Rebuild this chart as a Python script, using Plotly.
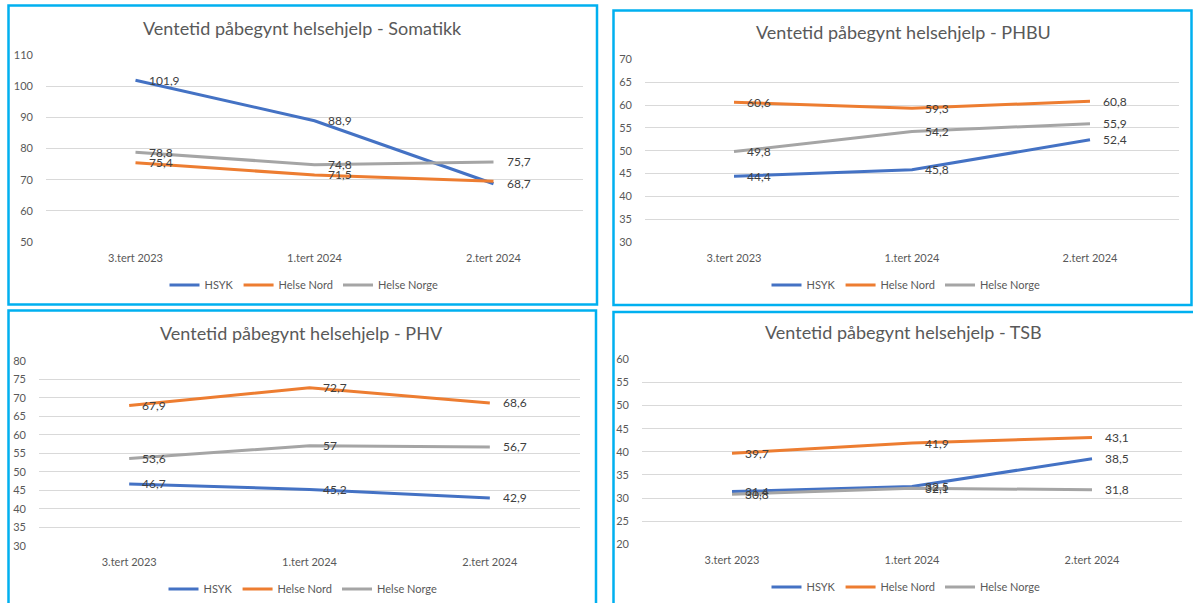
import plotly.graph_objects as go

# ---- data -------------------------------------------------------------
periods = ["3.tert 2023", "1.tert 2024", "2.tert 2024"]
series_names = ["HSYK", "Helse Nord", "Helse Norge"]
series_colors = ["#4472C4", "#ED7D31", "#A5A5A5"]

# Somatikk
som_hsyk = [101.9, 88.9, 68.7]
som_nord = [75.4, 71.5, 69.5]
som_norge = [78.8, 74.8, 75.7]
som_labels_nord = [True, True, False]

# PHBU
phbu_hsyk = [44.4, 45.8, 52.4]
phbu_nord = [60.6, 59.3, 60.8]
phbu_norge = [49.8, 54.2, 55.9]

# PHV
phv_hsyk = [46.7, 45.2, 42.9]
phv_nord = [67.9, 72.7, 68.6]
phv_norge = [53.6, 57.0, 56.7]

# TSB
tsb_hsyk = [31.4, 32.5, 38.5]
tsb_nord = [39.7, 41.9, 43.1]
tsb_norge = [30.8, 32.1, 31.8]

titles = [
    "Ventetid påbegynt helsehjelp - Somatikk",
    "Ventetid påbegynt helsehjelp - PHBU",
    "Ventetid påbegynt helsehjelp - PHV",
    "Ventetid påbegynt helsehjelp - TSB",
]

# ---- layout helpers ---------------------------------------------------
W, H = 1193, 603
FONT = "Lato"
TXT = "#595959"
LBL = "#404040"
GRID = "#D9D9D9"
FRAME = "#00B0F0"


def px(v):
    return v / W


def py(v):
    return 1 - v / H


def fmt(v):
    s = f"{v:g}"
    return s.replace(".", ",")


# panel definitions: plot-area pixel box, y-range, tick step, frame box,
# title centre, legend centre
panels = [
    dict(data=[som_hsyk, som_nord, som_norge], show=[None, som_labels_nord, None],
         xpx=(46, 583), ypx=(242, 55), yr=(50, 110), dt=10,
         frame=(8.5, 5.5, 597, 304.5), title=(302, 28), leg=(304, 285)),
    dict(data=[phbu_hsyk, phbu_nord, phbu_norge], show=[None, None, None],
         xpx=(645, 1179), ypx=(242, 59.3), yr=(30, 70), dt=5,
         frame=(613.5, 10.5, 1191.5, 305), title=(903, 32), leg=(906, 285)),
    dict(data=[phv_hsyk, phv_nord, phv_norge], show=[None, None, None],
         xpx=(39, 580), ypx=(545.7, 360.7), yr=(30, 80), dt=5,
         frame=(8.5, 310.5, 596, 612), title=(301, 333), leg=(303, 589)),
    dict(data=[tsb_hsyk, tsb_nord, tsb_norge], show=[None, None, None],
         xpx=(642, 1182), ypx=(544.3, 359.3), yr=(20, 60), dt=5,
         frame=(613.5, 312, 1200, 612), title=(903, 332), leg=(906, 587)),
]

fig = go.Figure()
annotations = []
shapes = []
layout_axes = {}

for i, p in enumerate(panels):
    n = "" if i == 0 else str(i + 1)
    xa, ya = "x" + n, "y" + n
    leg = "legend" + n

    for s_idx, (name, color, vals) in enumerate(zip(series_names, series_colors, p["data"])):
        fig.add_trace(go.Scatter(
            x=periods, y=vals, name=name, mode="lines",
            line=dict(color=color, width=3),
            xaxis=xa, yaxis=ya, legend=leg, hoverinfo="skip",
        ))
        mask = p["show"][s_idx]
        for k, (cat, v) in enumerate(zip(periods, vals)):
            if mask is not None and not mask[k]:
                continue
            annotations.append(dict(
                x=cat, y=v, xref=xa, yref=ya, text=fmt(v), showarrow=False,
                xanchor="left", yanchor="middle", xshift=11,
                font=dict(family=FONT, size=12, color=LBL),
            ))

    y0, y1 = p["yr"]
    layout_axes["xaxis" + n] = dict(
        domain=[px(p["xpx"][0]), px(p["xpx"][1])], anchor=ya,
        type="category", range=[-0.5, 2.5], showgrid=False, zeroline=False,
        showline=False, ticks="", ticklabelstandoff=8, automargin=False,
        tickfont=dict(family=FONT, size=11, color=TXT), fixedrange=True,
    )
    layout_axes["yaxis" + n] = dict(
        domain=[py(p["ypx"][0]), py(p["ypx"][1])], anchor=xa,
        range=[y0 - 0.01, y1 + 0.01], dtick=p["dt"], tick0=0,
        showgrid=True, gridcolor=GRID, gridwidth=1, zeroline=False,
        showline=False, ticks="", ticklabelstandoff=12, automargin=False,
        tickfont=dict(family=FONT, size=11, color=TXT), fixedrange=True,
    )
    layout_axes[leg] = dict(
        orientation="h", x=px(p["leg"][0]), y=py(p["leg"][1]),
        xanchor="center", yanchor="middle", bgcolor="rgba(0,0,0,0)",
        font=dict(family=FONT, size=11, color=TXT), itemclick=False,
        tracegroupgap=0,
    )

    annotations.append(dict(
        x=px(p["title"][0]), y=py(p["title"][1]), xref="paper", yref="paper",
        text=titles[i], showarrow=False, xanchor="center", yanchor="middle",
        font=dict(family=FONT, size=18, color=TXT),
    ))

    fx0, fy0, fx1, fy1 = p["frame"]
    shapes.append(dict(
        type="rect", xref="paper", yref="paper",
        x0=px(fx0), x1=px(fx1), y0=py(fy1), y1=py(fy0),
        line=dict(color=FRAME, width=2.5), fillcolor="rgba(0,0,0,0)",
        layer="below",
    ))

fig.update_layout(
    width=W, height=H,
    margin=dict(l=0, r=0, t=0, b=0, autoexpand=False),
    paper_bgcolor="white", plot_bgcolor="white",
    annotations=annotations, shapes=shapes, showlegend=True,
    **layout_axes,
)

fig.write_html("out.html", config={"displayModeBar": False})
